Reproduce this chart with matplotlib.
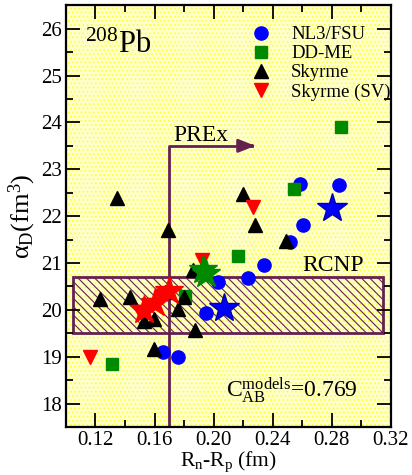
import matplotlib
matplotlib.use("Agg")
import matplotlib.pyplot as plt
from matplotlib.patches import Rectangle
from matplotlib.lines import Line2D
from matplotlib.ticker import MultipleLocator

plt.rcParams['font.family'] = ['Liberation Serif', 'DejaVu Serif']
plt.rcParams['mathtext.fontset'] = 'custom'
plt.rcParams['mathtext.rm'] = 'Liberation Serif'
plt.rcParams['mathtext.it'] = 'Liberation Serif'
plt.rcParams['hatch.linewidth'] = 0.8

# NL3/FSU
nl3_x = [0.2587, 0.285, 0.2603, 0.2515, 0.2343, 0.223, 0.2028, 0.1951, 0.1658, 0.1757]
nl3_y = [22.68, 22.66, 21.80, 21.45, 20.95, 20.68, 20.59, 19.93, 19.11, 19.00]
nl3_star_x = [0.280, 0.2071]
nl3_star_y = [22.18, 20.04]

# DD-ME
ddme_x = [0.2864, 0.2546, 0.2164, 0.1809, 0.1313]
ddme_y = [23.91, 22.57, 21.15, 20.29, 18.84]
ddme_star_x = [0.1925, 0.1950]
ddme_star_y = [20.86, 20.76]

# Skyrme
sky_x = [0.1347, 0.1689, 0.2199, 0.2283, 0.2492, 0.1861, 0.1234, 0.1437,
         0.1797, 0.1757, 0.1527, 0.1595, 0.1872, 0.1599, 0.1670]
sky_y = [22.38, 21.70, 22.48, 21.80, 21.47, 20.86, 20.23, 20.27,
         20.27, 20.02, 19.77, 19.80, 19.57, 19.16, 20.38]

# Skyrme (SV)
sv_x = [0.2267, 0.1922, 0.1166, 0.1580, 0.1500, 0.1650]
sv_y = [22.20, 21.07, 19.00, 20.10, 19.95, 20.30]
sv_star_x = [0.1696, 0.1600, 0.1530]
sv_star_y = [20.40, 20.15, 20.00]

# experimental constraints
prex = 0.17
prex_top = 23.5
prex_arrow_end = 0.23
rcnp_x = [0.1045, 0.3148]
rcnp_y = [19.5, 20.7]

purple = '#66204f'

fig = plt.figure(figsize=(4.12, 4.75), dpi=100)
ax = fig.add_axes([0.160, 0.101, 0.789, 0.888])
ax.set_facecolor('#ffffcc')
ax.add_patch(Rectangle((0, 0), 1, 1, transform=ax.transAxes, facecolor='none',
                       edgecolor='#ffff40', hatch='....', lw=0, zorder=0))

ax.add_patch(Rectangle((rcnp_x[0], rcnp_y[0]), rcnp_x[1] - rcnp_x[0], rcnp_y[1] - rcnp_y[0],
                       facecolor='none', edgecolor=purple, hatch='\\\\\\\\', lw=2, zorder=1))
ax.text(0.281, 20.95, 'RCNP', fontsize=17, ha='center', va='center')

ax.plot([prex, prex, prex_arrow_end - 0.004], [17.5, prex_top, prex_top], color=purple, lw=2, zorder=1)
ax.annotate('', xy=(prex_arrow_end, prex_top), xytext=(prex_arrow_end - 0.006, prex_top),
            arrowprops=dict(arrowstyle='-|>,head_length=1.0,head_width=0.4',
                            color=purple, lw=2))
ax.text(0.1725, 23.72, 'PREx', fontsize=17, ha='left', va='center')

ax.plot(nl3_x, nl3_y, 'o', color='blue', ms=9.5, ls='none', zorder=3)
ax.plot(ddme_x, ddme_y, 's', color='#008a00', ms=8.5, ls='none', zorder=4)
ax.plot(sky_x, sky_y, '^', color='black', ms=10.5, ls='none', zorder=5)
ax.plot(sv_x, sv_y, 'v', color='red', ms=10.5, ls='none', zorder=6)
ax.plot(ddme_star_x, ddme_star_y, '*', color='#008a00', ms=21, ls='none', zorder=7)
ax.plot(sv_star_x, sv_star_y, '*', color='red', ms=21, ls='none', zorder=7)
ax.plot(nl3_star_x, nl3_star_y, '*', color='blue', mec='#0000b0', ms=22, ls='none', zorder=7)

handles = [
    Line2D([], [], marker='o', color='blue', ms=9.5, ls='none'),
    Line2D([], [], marker='s', color='#008a00', ms=8.5, ls='none'),
    Line2D([], [], marker='^', color='black', ms=10.5, ls='none'),
    Line2D([], [], marker='v', color='red', ms=10.5, ls='none'),
]
ax.legend(handles, ['NL3/FSU', 'DD-ME', 'Skyrme', 'Skyrme (SV)'], loc='upper left',
          bbox_to_anchor=(0.52, 0.99), frameon=False, fontsize=13.5, handlelength=1.0,
          handletextpad=1.1, labelspacing=0.1)

ax.text(0.113, 25.65, r'$^{208}$Pb', fontsize=22, ha='left', va='center')
ax.text(0.2086, 18.27, r'C$_{\mathrm{AB}}^{\mathrm{models}}$=0.769', fontsize=17, ha='left', va='center')

ax.set_xlim(0.1, 0.32)
ax.set_ylim(17.5, 26.5)
ax.xaxis.set_major_locator(MultipleLocator(0.04))
ax.xaxis.set_minor_locator(MultipleLocator(0.02))
ax.yaxis.set_major_locator(MultipleLocator(1))
ax.yaxis.set_minor_locator(MultipleLocator(0.5))
ax.set_xticks([0.12, 0.16, 0.20, 0.24, 0.28, 0.32])
ax.set_xticklabels(['0.12', '0.16', '0.20', '0.24', '0.28', '0.32'])
ax.tick_params(which='both', direction='in', top=True, right=True, labelsize=15, width=1.3)
ax.tick_params(which='major', length=10, pad=3)
ax.tick_params(which='minor', length=5)
for s in ax.spines.values():
    s.set_linewidth(1.6)

ax.set_xlabel(r'R$_{\mathrm{n}}$-R$_{\mathrm{p}}$ (fm)', fontsize=15.5, va='center')
ax.xaxis.set_label_coords(0.5, -0.082)
ax.set_ylabel(r'$\alpha_{\mathrm{D}}$(fm$^3$)', fontsize=19, labelpad=2)

fig.savefig('out.png', dpi=100)
